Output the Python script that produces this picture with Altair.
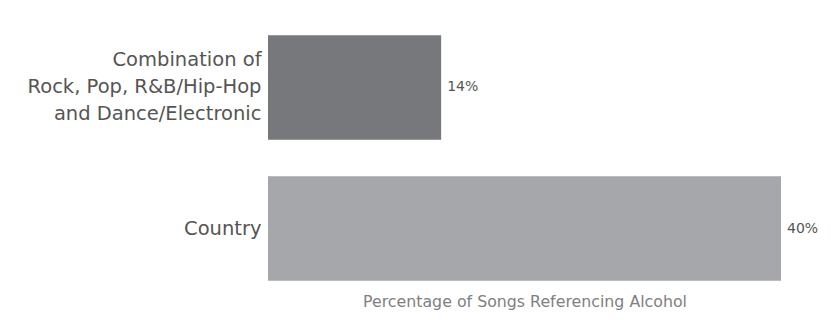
import altair as alt
import pandas as pd

categories = ["Combination of|Rock, Pop, R&B/Hip-Hop|and Dance/Electronic", "Country"]
values = [13.5, 40.0]
labels = ["14%", "40%"]
colors = ["#77787c", "#a6a7ab"]

df = pd.DataFrame({"genre": categories, "pct": values, "label": labels, "color": colors})

FONT = "DejaVu Sans"

base = alt.Chart(df).encode(
    y=alt.Y("genre:N", sort=categories,
            scale=alt.Scale(paddingInner=0.26, paddingOuter=0.073),
            axis=alt.Axis(title=None, ticks=False, domain=False,
                          labelExpr="split(datum.label, '|')",
                          labelFontSize=19.5, labelColor="#555555", labelFont=FONT,
                          labelLineHeight=27, labelPadding=7, labelLimit=400,
                          labelOffset={"condition": {"test": "indexof(datum.value, '|') >= 0",
                                                     "value": -27},
                                       "value": 0})),
)

bars = base.mark_bar().encode(
    x=alt.X("pct:Q", scale=alt.Scale(domain=[0, 40], nice=False, zero=True),
            axis=alt.Axis(title="Percentage of Songs Referencing Alcohol", labels=False,
                          ticks=False, domain=False, grid=False,
                          titleFont=FONT, titleFontSize=15.8, titleFontWeight="normal",
                          titleColor="#808080", titlePadding=3)),
    color=alt.Color("color:N", scale=None),
)

text = base.mark_text(align="left", baseline="middle", dx=6, font=FONT,
                      fontSize=14, color="#555555").encode(
    x="pct:Q",
    text="label:N",
)

chart = (bars + text).properties(
    width=513, height=266,
    background="white",
    autosize=alt.AutoSizeParams(type="none"),
    padding={"left": 268, "top": 25, "right": 50, "bottom": 38},
).configure_view(stroke=None)

chart.save("out.html", embed_options={"renderer": "svg", "actions": False})
